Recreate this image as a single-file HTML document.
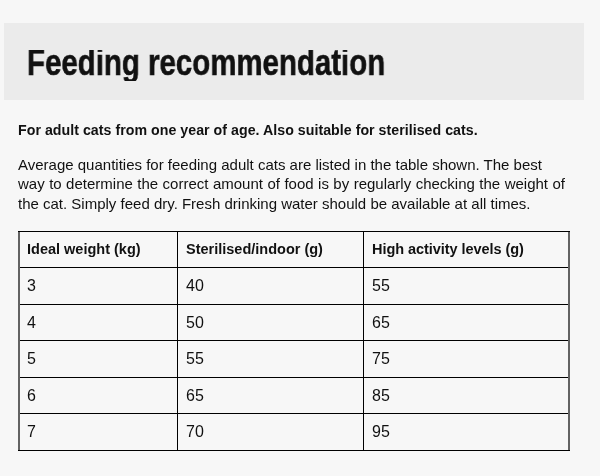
<!DOCTYPE html>
<html><head><meta charset="utf-8">
<style>
html,body{margin:0;padding:0;}
body{width:600px;height:476px;background:#f7f7f7;position:relative;overflow:hidden;font-family:"Liberation Sans",sans-serif;color:#222;}
.hdr{position:absolute;left:4px;top:23px;width:580px;height:77px;background:#ebebeb;}
.title{will-change:transform;position:absolute;left:26.5px;top:40.8px;font-size:37.5px;font-weight:bold;color:#111;white-space:nowrap;transform-origin:0 0;transform:scaleX(0.785);-webkit-text-stroke:0.6px #111;clip-path:inset(9.3px -10px 3.3px -10px);}
.lead{will-change:transform;position:absolute;left:18px;top:121.5px;font-size:14.2px;letter-spacing:0.03px;font-weight:bold;color:#111;white-space:nowrap;}
.p{will-change:transform;position:absolute;left:18px;font-size:15px;white-space:nowrap;color:#111;}
.hl{position:absolute;height:1px;background:#000;left:19px;width:550px;}
.ho{position:absolute;height:1px;background:#000;left:18px;width:552px;}
.vo{position:absolute;width:2px;background:#636363;top:231px;height:220px;}
.vl{position:absolute;width:1px;background:#000;top:231px;height:220px;}
.c{will-change:transform;position:absolute;font-size:16px;white-space:nowrap;color:#111;}
.c.b{font-weight:bold;color:#111;font-size:14.5px;}
</style></head><body>
<div class="hdr"></div>
<div class="title">Feeding recommendation</div>
<div class="lead">For adult cats from one year of age. Also suitable for sterilised cats.</div>
<div class="p" style="top:156px">Average quantities for feeding adult cats are listed in the table shown. The best</div>
<div class="p" style="top:175px;word-spacing:0.3px">way to determine the correct amount of food is by regularly checking the weight of</div>
<div class="p" style="top:195px">the cat. Simply feed dry. Fresh drinking water should be available at all times.</div>

<div class="hl" style="top:267px"></div>
<div class="hl" style="top:304px"></div>
<div class="hl" style="top:340px"></div>
<div class="hl" style="top:377px"></div>
<div class="hl" style="top:413px"></div>
<div class="vl" style="left:177px"></div>
<div class="vl" style="left:363px"></div>
<div class="vo" style="left:18px"></div>
<div class="vo" style="left:568px"></div>
<div class="ho" style="top:231px"></div>
<div class="ho" style="top:450px"></div>

<div class="c b" style="left:27px;top:241px">Ideal weight (kg)</div>
<div class="c b" style="left:186px;top:241px">Sterilised/indoor (g)</div>
<div class="c b" style="left:372px;top:241px;letter-spacing:-0.05px">High activity levels (g)</div>

<div class="c" style="left:27px;top:277px">3</div>
<div class="c" style="left:186px;top:277px">40</div>
<div class="c" style="left:372px;top:277px">55</div>
<div class="c" style="left:27px;top:314px">4</div>
<div class="c" style="left:186px;top:314px">50</div>
<div class="c" style="left:372px;top:314px">65</div>
<div class="c" style="left:27px;top:350px">5</div>
<div class="c" style="left:186px;top:350px">55</div>
<div class="c" style="left:372px;top:350px">75</div>
<div class="c" style="left:27px;top:387px">6</div>
<div class="c" style="left:186px;top:387px">65</div>
<div class="c" style="left:372px;top:387px">85</div>
<div class="c" style="left:27px;top:423px">7</div>
<div class="c" style="left:186px;top:423px">70</div>
<div class="c" style="left:372px;top:423px">95</div>
</body></html>
